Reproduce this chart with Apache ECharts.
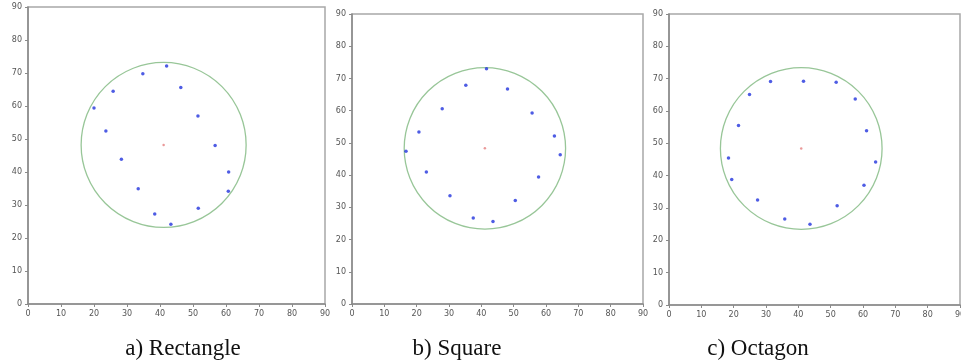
<!DOCTYPE html>
<html>
<head>
<meta charset="utf-8">
<script src="https://cdn.jsdelivr.net/npm/echarts@6/dist/echarts.min.js"></script>
<style>
  html, body { margin: 0; padding: 0; background: #fff; }
  #chart { width: 961px; height: 362px; }
</style>
</head>
<body>
<div id="chart"></div>
<script>
// tick labels shared by all three panels
const ticks = [0, 10, 20, 30, 40, 50, 60, 70, 80, 90]

// sensor positions
const rectPoints = [
  [42.0, 72.1], [34.8, 69.8], [46.3, 65.6], [25.8, 64.5], [20.0, 59.4],
  [51.5, 57.0], [23.6, 52.4], [56.7, 48.0], [28.3, 43.9], [60.8, 40.0],
  [60.7, 34.2], [33.4, 34.9], [51.6, 29.0], [38.4, 27.3], [43.3, 24.2]
]
const squarePoints = [
  [41.6, 73.0], [35.2, 67.9], [48.1, 66.7], [27.9, 60.6], [55.7, 59.3],
  [20.7, 53.4], [62.6, 52.1], [16.7, 47.4], [64.4, 46.3], [23.0, 41.0],
  [57.7, 39.4], [30.3, 33.6], [50.5, 32.1], [37.5, 26.7], [43.6, 25.6]
]
const octagonPoints = [
  [31.4, 69.1], [41.6, 69.2], [51.7, 68.9], [24.9, 65.1], [57.6, 63.7],
  [21.5, 55.5], [61.1, 53.9], [18.4, 45.5], [63.9, 44.2], [19.4, 38.8],
  [60.3, 37.0], [27.4, 32.5], [52.0, 30.7], [35.8, 26.6], [43.6, 25.0]
]

// centre and radius of each circle [x, y, r]
const rectCircle = [41.1, 48.2, 25]
const squareCircle = [41.1, 48.3, 25]
const octagonCircle = [40.9, 48.4, 25]

const captions = ['a) Rectangle', 'b) Square', 'c) Octagon']

const grids = [
  { left: 28, top: 7, width: 297, height: 297 },
  { left: 352, top: 14, width: 291, height: 290 },
  { left: 669, top: 14, width: 291, height: 291 }
]
const captionX = [178, 452, 753]

const chart = echarts.init(document.getElementById('chart'))

function axis(i) {
  return {
    type: 'value',
    gridIndex: i,
    min: ticks[0],
    max: ticks[ticks.length - 1],
    interval: ticks[1] - ticks[0],
    axisLine: { show: true, onZero: false, lineStyle: { color: '#8a8a8a', width: 1.5 } },
    axisTick: { show: true, length: 3, lineStyle: { color: '#8a8a8a' } },
    axisLabel: { fontSize: 8, color: '#555', margin: 6, fontFamily: 'DejaVu Sans' },
    splitLine: { show: false }
  }
}

function circleSeries(i, c) {
  return {
    type: 'custom',
    xAxisIndex: i,
    yAxisIndex: i,
    silent: true,
    clip: false,
    renderItem(params, api) {
      const p = api.coord([api.value(0), api.value(1)])
      const s = api.size([api.value(2), api.value(2)])
      return {
        type: 'circle',
        shape: { cx: p[0], cy: p[1], r: (s[0] + s[1]) / 2 },
        style: { fill: 'none', stroke: '#98c698', lineWidth: 1.3 }
      }
    },
    data: [c]
  }
}

function pointSeries(i, pts) {
  return {
    type: 'scatter',
    xAxisIndex: i,
    yAxisIndex: i,
    symbolSize: 3.5,
    itemStyle: { color: '#2233dd' },
    data: pts
  }
}

function centreSeries(i, c) {
  return {
    type: 'scatter',
    xAxisIndex: i,
    yAxisIndex: i,
    symbolSize: 2.5,
    itemStyle: { color: '#e58080' },
    data: [[c[0], c[1]]]
  }
}

const circles = [rectCircle, squareCircle, octagonCircle]
const points = [rectPoints, squarePoints, octagonPoints]

const series = []
for (let i = 0; i < 3; i++) {
  series.push(circleSeries(i, circles[i]))
  series.push(pointSeries(i, points[i]))
  series.push(centreSeries(i, circles[i]))
}

const option = {
  animation: false,
  backgroundColor: '#fff',
  title: captions.map((t, i) => ({
    text: t,
    left: captionX[i],
    top: 332,
    textAlign: 'center',
    textStyle: { fontFamily: 'Liberation Serif', fontWeight: 'normal', fontSize: 23, color: '#111' }
  })),
  grid: grids.map(g => Object.assign({
    show: true,
    borderColor: '#a8a8a8',
    borderWidth: 1.5,
    containLabel: false,
    outerBoundsMode: 'none'
  }, g)),
  xAxis: [0, 1, 2].map(axis),
  yAxis: [0, 1, 2].map(axis),
  series: series
}
chart.setOption(option)
</script>
</body>
</html>
